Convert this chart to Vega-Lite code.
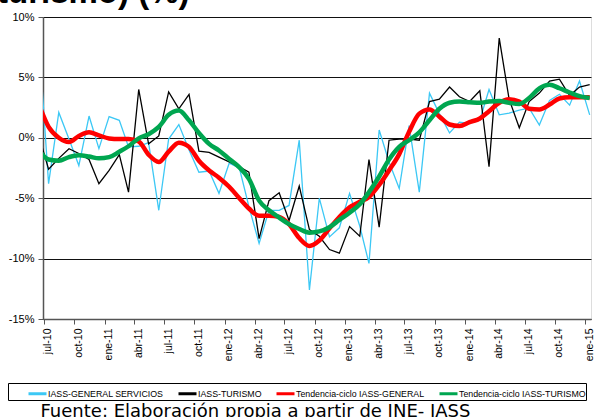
{
  "$schema": "https://vega.github.io/schema/vega-lite/v6.json",
  "autosize": "none",
  "width": 548,
  "height": 302,
  "padding": {"left": 43, "top": 17, "right": 3, "bottom": 98},
  "background": "white",
  "title": {"text": "turismo) (%)", "anchor": "start", "frame": "group", "font": "Liberation Sans", "fontSize": 33, "fontWeight": "bold", "color": "#000", "baseline": "alphabetic", "offset": 2, "dx": -46, "dy": 27},
  "data": {"values": [
    {"fecha": "2010-06-15", "g": 8.3, "t": 0.2, "rg": 2.8, "rt": -1.0},
    {"fecha": "2010-07-15", "g": -3.8, "t": -2.6, "rg": 0.9, "rt": -1.8},
    {"fecha": "2010-08-15", "g": 2.1, "t": -1.7, "rg": 0.0, "rt": -1.9},
    {"fecha": "2010-09-15", "g": -0.1, "t": -0.9, "rg": -0.35, "rt": -1.6},
    {"fecha": "2010-10-15", "g": -2.3, "t": -1.3, "rg": 0.15, "rt": -1.45},
    {"fecha": "2010-11-15", "g": 1.8, "t": -1.8, "rg": 0.45, "rt": -1.55},
    {"fecha": "2010-12-15", "g": -0.9, "t": -3.8, "rg": 0.2, "rt": -1.7},
    {"fecha": "2011-01-15", "g": 1.75, "t": -2.7, "rg": -0.05, "rt": -1.6},
    {"fecha": "2011-02-15", "g": 1.45, "t": -1.4, "rg": -0.1, "rt": -1.15},
    {"fecha": "2011-03-15", "g": -0.75, "t": -4.5, "rg": -0.1, "rt": -0.7},
    {"fecha": "2011-04-15", "g": -0.7, "t": 4.0, "rg": -0.3, "rt": -0.05},
    {"fecha": "2011-05-15", "g": -0.4, "t": -0.5, "rg": -1.4, "rt": 0.3},
    {"fecha": "2011-06-15", "g": -6.0, "t": 0.15, "rg": -2.0, "rt": 0.9},
    {"fecha": "2011-07-15", "g": -0.1, "t": 3.8, "rg": -1.15, "rt": 1.9},
    {"fecha": "2011-08-15", "g": 1.1, "t": 2.4, "rg": -0.4, "rt": 2.25},
    {"fecha": "2011-09-15", "g": -1.0, "t": 3.6, "rg": -0.75, "rt": 1.45},
    {"fecha": "2011-10-15", "g": -2.85, "t": -1.1, "rg": -1.9, "rt": 0.4},
    {"fecha": "2011-11-15", "g": -2.75, "t": -1.2, "rg": -2.7, "rt": -0.5},
    {"fecha": "2011-12-15", "g": -4.6, "t": -1.6, "rg": -3.3, "rt": -1.05},
    {"fecha": "2012-01-15", "g": -2.1, "t": -2.0, "rg": -4.05, "rt": -1.75},
    {"fecha": "2012-02-15", "g": -2.5, "t": -2.4, "rg": -5.0, "rt": -2.45},
    {"fecha": "2012-03-15", "g": -5.7, "t": -2.85, "rg": -5.85, "rt": -3.4},
    {"fecha": "2012-04-15", "g": -8.75, "t": -8.35, "rg": -6.45, "rt": -5.2},
    {"fecha": "2012-05-15", "g": -6.0, "t": -5.2, "rg": -6.45, "rt": -6.0},
    {"fecha": "2012-06-15", "g": -6.0, "t": -4.55, "rg": -6.55, "rt": -6.6},
    {"fecha": "2012-07-15", "g": -5.6, "t": -6.85, "rg": -7.15, "rt": -7.15},
    {"fecha": "2012-08-15", "g": -0.2, "t": -4.0, "rg": -8.3, "rt": -7.55},
    {"fecha": "2012-09-15", "g": -12.6, "t": -7.6, "rg": -8.95, "rt": -7.85},
    {"fecha": "2012-10-15", "g": -5.0, "t": -8.15, "rg": -8.5, "rt": -7.75},
    {"fecha": "2012-11-15", "g": -8.2, "t": -9.25, "rg": -7.5, "rt": -7.4},
    {"fecha": "2012-12-15", "g": -7.45, "t": -9.55, "rg": -6.55, "rt": -6.8},
    {"fecha": "2013-01-15", "g": -4.6, "t": -7.35, "rg": -5.75, "rt": -6.2},
    {"fecha": "2013-02-15", "g": -7.3, "t": -8.15, "rg": -5.3, "rt": -5.5},
    {"fecha": "2013-03-15", "g": -10.4, "t": -1.8, "rg": -4.9, "rt": -4.5},
    {"fecha": "2013-04-15", "g": 0.65, "t": -7.4, "rg": -3.9, "rt": -3.2},
    {"fecha": "2013-05-15", "g": -2.0, "t": -0.2, "rg": -2.7, "rt": -1.8},
    {"fecha": "2013-06-15", "g": -4.2, "t": -0.1, "rg": -1.35, "rt": -0.75},
    {"fecha": "2013-07-15", "g": 1.0, "t": -0.1, "rg": 0.5, "rt": -0.2},
    {"fecha": "2013-08-15", "g": -4.5, "t": -0.2, "rg": 2.0, "rt": 0.45},
    {"fecha": "2013-09-15", "g": 3.7, "t": 3.0, "rg": 2.35, "rt": 1.45},
    {"fecha": "2013-10-15", "g": 2.0, "t": 3.2, "rg": 1.75, "rt": 2.4},
    {"fecha": "2013-11-15", "g": 0.4, "t": 4.2, "rg": 1.1, "rt": 2.9},
    {"fecha": "2013-12-15", "g": 1.3, "t": 3.4, "rg": 0.97, "rt": 3.0},
    {"fecha": "2014-01-15", "g": 1.2, "t": 3.0, "rg": 1.3, "rt": 2.95},
    {"fecha": "2014-02-15", "g": 1.45, "t": 3.9, "rg": 1.6, "rt": 2.9},
    {"fecha": "2014-03-15", "g": 4.0, "t": -2.4, "rg": 2.2, "rt": 3.0},
    {"fecha": "2014-04-15", "g": 1.9, "t": 8.25, "rg": 2.9, "rt": 3.05},
    {"fecha": "2014-05-15", "g": 2.05, "t": 3.2, "rg": 3.2, "rt": 2.9},
    {"fecha": "2014-06-15", "g": 2.3, "t": 0.83, "rg": 3.0, "rt": 2.8},
    {"fecha": "2014-07-15", "g": 2.45, "t": 3.0, "rg": 2.4, "rt": 3.3},
    {"fecha": "2014-08-15", "g": 1.05, "t": 3.7, "rg": 2.35, "rt": 4.1},
    {"fecha": "2014-09-15", "g": 3.1, "t": 4.7, "rg": 2.75, "rt": 4.4},
    {"fecha": "2014-10-15", "g": 3.6, "t": 4.85, "rg": 3.25, "rt": 4.1},
    {"fecha": "2014-11-15", "g": 2.7, "t": 3.5, "rg": 3.35, "rt": 3.75},
    {"fecha": "2014-12-15", "g": 4.7, "t": 4.2, "rg": 3.35, "rt": 3.45},
    {"fecha": "2015-01-15", "g": 1.9, "t": 4.4, "rg": 3.35, "rt": 3.3}
  ]},
  "transform": [{"fold": ["g", "t", "rg", "rt"], "as": ["serie", "valor"]}],
  "encoding": {
    "x": {
      "field": "fecha", "type": "temporal",
      "scale": {"type": "utc", "domain": [{"year": 2010, "month": 6, "date": 28, "utc": true}, {"year": 2015, "month": 1, "date": 19, "utc": true}]},
      "axis": {
        "title": "Fuente: Elaboración propia a partir de INE- IASS",
        "titleFont": "DejaVu Sans", "titleFontSize": 18, "titleFontWeight": "normal", "titleColor": "#000",
        "titleAnchor": "start", "titleAlign": "left", "titleBaseline": "alphabetic", "titleX": -3, "titleY": 97,
        "tickCount": {"interval": "month", "step": 3},
        "labelExpr": "['ene','feb','mar','abr','may','jun','jul','ago','sep','oct','nov','dic'][utcmonth(datum.value)] + '-' + utcFormat(datum.value, '%y')",
        "labelAngle": -90, "labelAlign": "right", "labelBaseline": "middle", "labelOffset": 4,
        "labelFont": "Liberation Sans", "labelFontSize": 10.5, "labelColor": "#000", "labelPadding": 4,
        "labelOverlap": false, "labelFlush": false,
        "tickSize": 5, "tickColor": "#555", "domainColor": "#555", "domainWidth": 1.5, "grid": false
      }
    },
    "y": {
      "field": "valor", "type": "quantitative",
      "scale": {"domain": [-15, 10], "nice": false, "zero": false},
      "axis": {
        "title": null, "values": [-15, -10, -5, 0, 5, 10], "labelExpr": "datum.value + '%'",
        "labelFont": "Liberation Sans", "labelFontSize": 11, "labelColor": "#000", "labelPadding": 4,
        "tickSize": 5, "tickColor": "#555", "domainColor": "#555", "domainWidth": 1.5,
        "grid": true, "gridColor": "#111", "gridWidth": 1
      }
    },
    "color": {
      "field": "serie", "type": "nominal",
      "scale": {"domain": ["g", "t", "rg", "rt"], "range": ["#3CC8F5", "#000000", "#FF0000", "#00A650"]},
      "legend": {
        "title": "\u00a0", "titleOrient": "left", "titlePadding": 19, "titleFontSize": 8.8,
        "orient": "none", "legendX": -35, "legendY": 366, "direction": "horizontal",
        "strokeColor": "#000", "fillColor": "#fff", "padding": 0,
        "symbolType": "stroke", "symbolSize": 324, "symbolStrokeWidth": 3,
        "labelFont": "Liberation Sans", "labelFontSize": 8.8, "labelColor": "#000", "labelOffset": 0,
        "columnPadding": 8,
        "labelExpr": "datum.value == 'g' ? 'IASS-GENERAL SERVICIOS' : datum.value == 't' ? 'IASS-TURISMO' : datum.value == 'rg' ? 'Tendencia-ciclo IASS-GENERAL' : 'Tendencia-ciclo IASS-TURISMO\u2002'"
      }
    }
  },
  "layer": [
    {"transform": [{"filter": "datum.serie == 'g'"}], "mark": {"type": "line", "strokeWidth": 1.3, "clip": true}},
    {"transform": [{"filter": "datum.serie == 't'"}], "mark": {"type": "line", "strokeWidth": 1.3, "clip": true}},
    {"transform": [{"filter": "datum.serie == 'rg'"}], "mark": {"type": "line", "strokeWidth": 4.5, "interpolate": "monotone", "clip": true}},
    {"transform": [{"filter": "datum.serie == 'rt'"}], "mark": {"type": "line", "strokeWidth": 4.5, "interpolate": "monotone", "clip": true}}
  ]
}
